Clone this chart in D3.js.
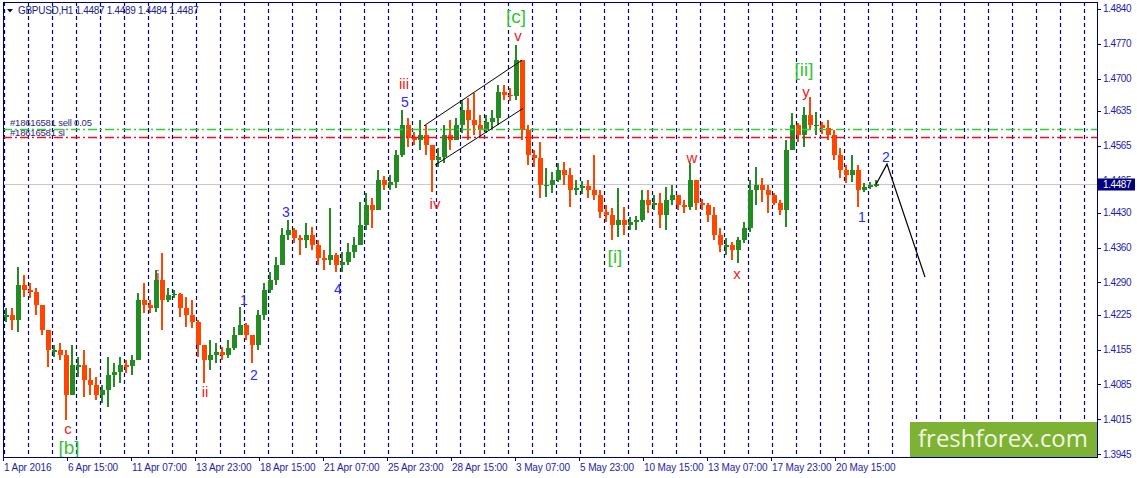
<!DOCTYPE html>
<html><head><meta charset="utf-8">
<script src="https://cdn.jsdelivr.net/npm/d3@7"></script>
<style>
html,body{margin:0;padding:0;background:#fff;overflow:hidden}
svg{display:block}
</style></head>
<body>
<svg id="chart" width="1137" height="478"></svg>
<script>
// ---------- DATA (GBPUSD H1, aggregated to 6-hour bars) ----------
const symbolTitle = "GBPUSD,H1";
const lastOHLC = [1.4487, 1.4489, 1.4484, 1.4487];
const firstOpen = 1.4220;

const highs = [
1.4239,1.4239,1.4321,1.4305,1.4289,1.4279,1.4245,1.4174,1.4164,1.4168,
1.4154,1.4164,1.4140,1.4154,1.4118,1.4100,1.4084,1.4140,1.4128,1.4140,
1.4134,1.4144,1.4269,1.4289,1.4255,1.4315,1.4349,1.4279,1.4275,1.4269,
1.4261,1.4255,1.4215,1.4160,1.4174,1.4168,1.4160,1.4174,1.4201,1.4241,
1.4209,1.4184,1.4235,1.4289,1.4311,1.4341,1.4400,1.4416,1.4400,1.4385,
1.4410,1.4402,1.4375,1.4355,1.4440,1.4349,1.4351,1.4369,1.4381,1.4452,
1.4470,1.4460,1.4516,1.4504,1.4506,1.4556,1.4637,1.4621,1.4593,1.4617,
1.4607,1.4567,1.4560,1.4607,1.4617,1.4621,1.4657,1.4661,1.4671,1.4627,
1.4627,1.4637,1.4687,1.4687,1.4681,1.4768,1.4707,1.4607,1.4556,1.4573,
1.4520,1.4512,1.4530,1.4532,1.4520,1.4496,1.4494,1.4496,1.4546,1.4476,
1.4446,1.4440,1.4480,1.4442,1.4422,1.4424,1.4476,1.4476,1.4466,1.4470,
1.4482,1.4486,1.4460,1.4456,1.4530,1.4466,1.4458,1.4450,1.4442,1.4400,
1.4379,1.4371,1.4381,1.4412,1.4496,1.4522,1.4500,1.4486,1.4470,1.4456,
1.4577,1.4631,1.4611,1.4643,1.4663,1.4633,1.4613,1.4617,1.4597,1.4560,
1.4526,1.4546,1.4526,1.4490,1.4492,1.4496];

const lows = [
1.4211,1.4195,1.4190,1.4261,1.4259,1.4225,1.4184,1.4120,1.4140,1.4134,
1.4013,1.4080,1.4100,1.4060,1.4064,1.4054,1.4048,1.4040,1.4080,1.4088,
1.4108,1.4104,1.4164,1.4229,1.4229,1.4231,1.4195,1.4251,1.4259,1.4221,
1.4201,1.4199,1.4140,1.4088,1.4114,1.4128,1.4134,1.4138,1.4154,1.4184,
1.4174,1.4128,1.4154,1.4215,1.4269,1.4285,1.4331,1.4375,1.4369,1.4345,
1.4359,1.4355,1.4325,1.4315,1.4325,1.4311,1.4311,1.4325,1.4339,1.4369,
1.4396,1.4400,1.4456,1.4476,1.4476,1.4480,1.4542,1.4562,1.4567,1.4556,
1.4546,1.4472,1.4522,1.4530,1.4556,1.4583,1.4591,1.4577,1.4587,1.4583,
1.4591,1.4597,1.4607,1.4657,1.4655,1.4657,1.4577,1.4526,1.4522,1.4460,
1.4462,1.4470,1.4492,1.4486,1.4442,1.4466,1.4468,1.4460,1.4456,1.4420,
1.4412,1.4375,1.4381,1.4385,1.4396,1.4396,1.4412,1.4430,1.4436,1.4400,
1.4396,1.4446,1.4436,1.4430,1.4436,1.4436,1.4436,1.4412,1.4375,1.4351,
1.4345,1.4335,1.4329,1.4369,1.4392,1.4446,1.4452,1.4430,1.4446,1.4426,
1.4402,1.4577,1.4573,1.4562,1.4597,1.4587,1.4589,1.4577,1.4536,1.4500,
1.4490,1.4492,1.4442,1.4472,1.4478,1.4482];

const closes = [
1.4225,1.4215,1.4285,1.4275,1.4271,1.4245,1.4195,1.4154,1.4154,1.4144,
1.4064,1.4124,1.4124,1.4094,1.4084,1.4064,1.4074,1.4104,1.4110,1.4124,
1.4122,1.4134,1.4255,1.4245,1.4239,1.4295,1.4255,1.4265,1.4267,1.4239,
1.4225,1.4211,1.4164,1.4134,1.4144,1.4150,1.4144,1.4158,1.4184,1.4205,
1.4184,1.4164,1.4225,1.4275,1.4295,1.4325,1.4385,1.4396,1.4379,1.4375,
1.4385,1.4365,1.4339,1.4335,1.4345,1.4325,1.4331,1.4351,1.4365,1.4406,
1.4446,1.4436,1.4496,1.4486,1.4492,1.4546,1.4607,1.4581,1.4577,1.4587,
1.4567,1.4536,1.4542,1.4587,1.4577,1.4607,1.4637,1.4617,1.4607,1.4597,
1.4613,1.4621,1.4673,1.4667,1.4665,1.4737,1.4597,1.4546,1.4540,1.4486,
1.4486,1.4496,1.4516,1.4506,1.4476,1.4480,1.4484,1.4476,1.4466,1.4432,
1.4426,1.4406,1.4416,1.4406,1.4412,1.4416,1.4456,1.4446,1.4450,1.4426,
1.4456,1.4466,1.4446,1.4442,1.4496,1.4450,1.4446,1.4426,1.4385,1.4365,
1.4365,1.4355,1.4375,1.4400,1.4476,1.4486,1.4476,1.4466,1.4450,1.4436,
1.4556,1.4607,1.4587,1.4627,1.4607,1.4607,1.4601,1.4587,1.4546,1.4516,
1.4506,1.4516,1.4476,1.4482,1.4486,1.4487];

const barHours = 6;                 // each bar aggregates 6 hourly bars
const visibleHours = 1094;          // hours across the chart window

const timeTickHours = [0,64,128,192,256,320,384,448,512,576,640,704,768,832];
const timeTickLabels = ["1 Apr 2016","6 Apr 15:00","11 Apr 07:00","13 Apr 23:00","18 Apr 15:00",
  "21 Apr 07:00","25 Apr 23:00","28 Apr 15:00","3 May 07:00","5 May 23:00","10 May 15:00",
  "13 May 07:00","17 May 23:00","20 May 15:00"];
const firstMidnightHour = 1;        // 4 Apr 00:00
const priceTicks = [1.4840,1.4770,1.4700,1.4635,1.4565,1.4495,1.4430,1.4360,1.4290,1.4225,1.4155,1.4085,1.4015,1.3945];
const priceDomain = [1.3939, 1.4854];
const currentPrice = 1.4487;

const orderLabels = ["#18616581 sell 0.05", "#18616581 sl"];
const orderPrices = [1.4599, 1.4583];

const channelUpperHours = [421, 519], channelUpperPrices = [1.4605, 1.4737];
const channelLowerHours = [432, 520], channelLowerPrices = [1.4526, 1.4640];
const projectionHours = [873, 884, 922], projectionPrices = [1.4487, 1.4528, 1.4301];

const waveTexts  = ["[b]","c","i","ii","1","2","3","4","5","iii","iv","[c]","v","[i]","w","x","[ii]","y","1","2"];
const waveHours  = [66,65,155,202,241,251,283,335,402,401,432,513,515,612,689,734,801,803,859,883];
const wavePrices = [1.3959,1.3997,1.4305,1.4070,1.4255,1.4104,1.4432,1.4277,1.4653,1.4691,1.4448,1.4824,1.4786,1.4343,1.4542,1.4309,1.4719,1.4675,1.4422,1.4542];

const brandText = "freshforex.com";

// ---------- DRAWING ----------
const svg = d3.select("#chart");
const L = 3, R = 1097, T = 2, B = 457;
const navy = "#00007f";
const axisText = "#1c1caa";
const font = "'Liberation Sans', Arial, sans-serif";

const x = d3.scaleLinear().domain([0, visibleHours]).range([L, R]);
const y = d3.scaleLinear().domain(priceDomain).range([B, T]);

svg.append("rect").attr("width",1137).attr("height",478).attr("fill","#fff");

// day separators
const seps = d3.range(firstMidnightHour, visibleHours, 24);
svg.append("g").selectAll("line").data(seps).join("line")
  .attr("x1", d => Math.round(x(d)) + 0.5).attr("x2", d => Math.round(x(d)) + 0.5)
  .attr("y1", T).attr("y2", B)
  .attr("stroke", "#00008b").attr("stroke-width", 1.2).attr("stroke-dasharray", "4,3");

// current price line
svg.append("line").attr("x1", L).attr("x2", R)
  .attr("y1", Math.round(y(currentPrice)) + 0.5).attr("y2", Math.round(y(currentPrice)) + 0.5)
  .attr("stroke", "#c8c8c8").attr("stroke-width", 1);

// bars
const bars = closes.map((c, i) => ({
  i, o: i === 0 ? firstOpen : closes[i - 1], h: highs[i], l: lows[i], c
}));
const up = "#228b22", down = "#ff4500";
const gb = svg.append("g").attr("shape-rendering", "crispEdges");
gb.selectAll("rect.w").data(bars).join("rect").attr("class","w")
  .attr("x", d => x(d.i * barHours + barHours / 2) - 1)
  .attr("width", 2)
  .attr("y", d => y(d.h))
  .attr("height", d => Math.max(1, y(d.l) - y(d.h)))
  .attr("fill", d => d.c >= d.o ? up : down);
gb.selectAll("rect.b").data(bars).join("rect").attr("class","b")
  .attr("x", d => x(d.i * barHours) + 0.5)
  .attr("width", barHours - 1)
  .attr("y", d => y(Math.max(d.o, d.c)))
  .attr("height", d => Math.max(1.5, Math.abs(y(d.o) - y(d.c))))
  .attr("fill", d => d.c >= d.o ? up : down);

// order lines
const orderColors = ["#32cd32", "#e8102a"];
const orderTextOffsets = [-2.5, -0.5];
orderPrices.forEach((p, i) => {
  svg.append("line").attr("x1", L).attr("x2", R)
    .attr("y1", Math.round(y(p)) + 0.5).attr("y2", Math.round(y(p)) + 0.5)
    .attr("stroke", orderColors[i]).attr("stroke-width", 1.3)
    .attr("stroke-dasharray", "9,3,2,3");
  svg.append("text").attr("x", 10).attr("y", y(p) + orderTextOffsets[i])
    .attr("font-family", font).attr("font-size", 9.5).attr("letter-spacing", -0.2)
    .attr("fill", "#2a2a80").text(orderLabels[i]);
});

// channel and projection
const line = d3.line().x(d => x(d[0])).y(d => y(d[1]));
svg.append("path").attr("d", line(d3.zip(channelUpperHours, channelUpperPrices)))
  .attr("stroke", "#000").attr("fill", "none").attr("stroke-width", 1);
svg.append("path").attr("d", line(d3.zip(channelLowerHours, channelLowerPrices)))
  .attr("stroke", "#000").attr("fill", "none").attr("stroke-width", 1);
svg.append("path").attr("d", line(d3.zip(projectionHours, projectionPrices)))
  .attr("stroke", "#000").attr("fill", "none").attr("stroke-width", 1.2);

// wave labels
waveTexts.forEach((t, i) => {
  let fill, size;
  if (t.startsWith("[")) { fill = "#36c236"; size = 19; }
  else if (/^\d$/.test(t)) { fill = "#2b2bff"; size = 14; }
  else { fill = "#f01a1a"; size = 15; }
  svg.append("text").attr("x", x(waveHours[i])).attr("y", y(wavePrices[i]))
    .attr("text-anchor", "middle").attr("dominant-baseline", "central")
    .attr("font-family", font).attr("font-size", size).attr("fill", fill).text(t);
});

// frame
svg.append("rect").attr("x", L + 0.5).attr("y", T + 0.5).attr("width", R - L).attr("height", B - T)
  .attr("fill", "none").attr("stroke", navy).attr("stroke-width", 1);

// right price axis
const cy = y(currentPrice);
svg.append("clipPath").attr("id", "axclip").append("rect")
  .attr("x", R).attr("y", 0).attr("width", 40).attr("height", cy - 6);
svg.append("clipPath").attr("id", "axclip2").append("rect")
  .attr("x", R).attr("y", cy + 6).attr("width", 40).attr("height", 478);
const ya = svg.append("g");
priceTicks.forEach(p => {
  const yy = Math.round(y(p)) + 0.5;
  ya.append("line").attr("x1", R).attr("x2", R + 4).attr("y1", yy).attr("y2", yy).attr("stroke", navy);
  const hidden = Math.abs(y(p) - cy) < 12;
  const tx = ya.append("text").attr("x", R + 6).attr("y", y(p)).attr("dominant-baseline", "central")
    .attr("font-family", font).attr("font-size", 10).attr("letter-spacing", -0.4)
    .attr("fill", axisText).text(d3.format(".4f")(p));
  if (hidden) tx.attr("clip-path", "url(#axclip)");
});
svg.append("rect").attr("x", R).attr("y", cy - 6).attr("width", 38).attr("height", 12).attr("fill", "#000080");
svg.append("text").attr("x", R + 6).attr("y", cy).attr("dominant-baseline", "central")
  .attr("font-family", font).attr("font-size", 10).attr("letter-spacing", -0.4)
  .attr("fill", "#fff").text(d3.format(".4f")(currentPrice));

// bottom time axis
timeTickHours.forEach((h, i) => {
  const xx = Math.round(x(h)) + 0.5;
  svg.append("line").attr("x1", xx).attr("x2", xx).attr("y1", B).attr("y2", B + 4).attr("stroke", navy);
  svg.append("text").attr("x", x(h) + 1).attr("y", B + 14)
    .attr("font-family", font).attr("font-size", 10).attr("letter-spacing", -0.1)
    .attr("fill", axisText).text(timeTickLabels[i]);
});

// title
svg.append("path").attr("d", "M7,9 L13,9 L10,12.5 Z").attr("fill", "#000060");
svg.append("text").attr("x", 18).attr("y", 14)
  .attr("font-family", font).attr("font-size", 10).attr("letter-spacing", -0.3)
  .attr("fill", "#20208a")
  .text(symbolTitle + " " + lastOHLC.map(d3.format(".4f")).join(" "));

// brand box
svg.append("rect").attr("x", 910).attr("y", 422).attr("width", R - 910).attr("height", B - 422).attr("fill", "#7db233");
const bt = svg.append("text").attr("x", 1003).attr("y", 447).attr("text-anchor", "middle")
  .attr("font-family", "'Open Sans', sans-serif").attr("font-size", 25).attr("fill", "#f3f8e6").text(brandText);
const bw = bt.node().getComputedTextLength();
bt.attr("font-size", 25 * 170 / bw);
</script>
</body></html>
